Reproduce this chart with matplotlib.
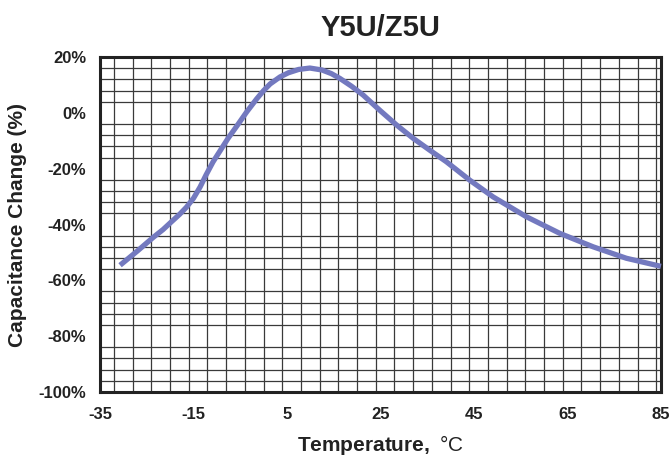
import matplotlib
matplotlib.use("Agg")
import matplotlib.pyplot as plt
from matplotlib.ticker import MultipleLocator

plt.rcParams['font.family'] = ['Liberation Sans', 'DejaVu Sans']
plt.rcParams['mathtext.fontset'] = 'custom'
plt.rcParams['mathtext.bf'] = 'Liberation Sans:bold'
plt.rcParams['mathtext.rm'] = 'Liberation Sans'
plt.rcParams['axes.unicode_minus'] = False

title = "Y5U/Z5U"
x_label_bold = "Temperature,"
x_label_rest = "°C"
y_label = "Capacitance Change (%)"

temperature = [-30.7, -27.0, -23.6, -21.5, -19.7, -18.0, -16.5, -15.0, -13.6, -12.3,
               -10.8, -9.2, -7.6, -5.6, -3.6, -1.5, 0.0, 1.4, 3.5, 5.3,
               7.5, 9.9, 12.5, 14.5, 16.3, 18.8, 21.3, 24.9, 28.5, 32.0,
               35.5, 39.1, 44.1, 49.1, 56.2, 63.4, 70.5, 77.6, 85.0]
cap_change = [-54.6, -49.5, -44.6, -41.8, -39.0, -36.4, -33.8, -30.6, -26.6, -22.2,
              -17.5, -13.3, -9.1, -4.4, 0.4, 5.0, 8.0, 10.4, 12.9, 14.4,
              15.6, 16.1, 15.4, 14.1, 12.4, 9.6, 6.4, 0.9, -4.4, -9.1,
              -13.3, -17.5, -24.1, -30.1, -37.2, -43.2, -48.0, -52.1, -55.0]

x_ticks = [-35, -15, 5, 25, 45, 65, 85]
y_ticks = [20, 0, -20, -40, -60, -80, -100]
y_ticklabels = ["20%", "0%", "-20%", "-40%", "-60%", "-80%", "-100%"]

fig = plt.figure(figsize=(6.71, 4.61), dpi=100)
ax = fig.add_axes([0.149, 0.150, 0.836, 0.726])

ax.set_xlim(-35, 85)
ax.set_ylim(-100, 20)

ax.xaxis.set_minor_locator(MultipleLocator(4))
ax.yaxis.set_minor_locator(MultipleLocator(4))
ax.set_xticks(x_ticks)
ax.set_xticklabels([str(t) for t in x_ticks])
ax.set_yticks(y_ticks)
ax.set_yticklabels(y_ticklabels)
ax.grid(True, which='minor', color='#3a3a3a', linewidth=0.9)
ax.grid(False, which='major')
ax.set_axisbelow(True)
ax.tick_params(which='both', length=0)
ax.tick_params(axis='x', pad=11, labelsize=12)
ax.tick_params(axis='y', pad=10, labelsize=12)
for lab in ax.get_xticklabels() + ax.get_yticklabels():
    lab.set_fontweight('bold')
    lab.set_color('#222222')

for s in ax.spines.values():
    s.set_linewidth(2.2)
    s.set_color('#222222')

ax.plot(temperature, cap_change, color='#7379bf', linewidth=3.8,
        solid_capstyle='butt', solid_joinstyle='round', zorder=3, clip_on=False)

ax.set_title(title, fontsize=21, fontweight='bold', color='#222222', pad=15)
ax.set_xlabel(r"$\mathbf{" + x_label_bold + r"}$ " + x_label_rest,
              fontsize=15, color='#222222', labelpad=8)
ax.set_ylabel(y_label, fontsize=15, fontweight='bold', color='#222222', labelpad=8)

fig.savefig("out.png", dpi=100)
